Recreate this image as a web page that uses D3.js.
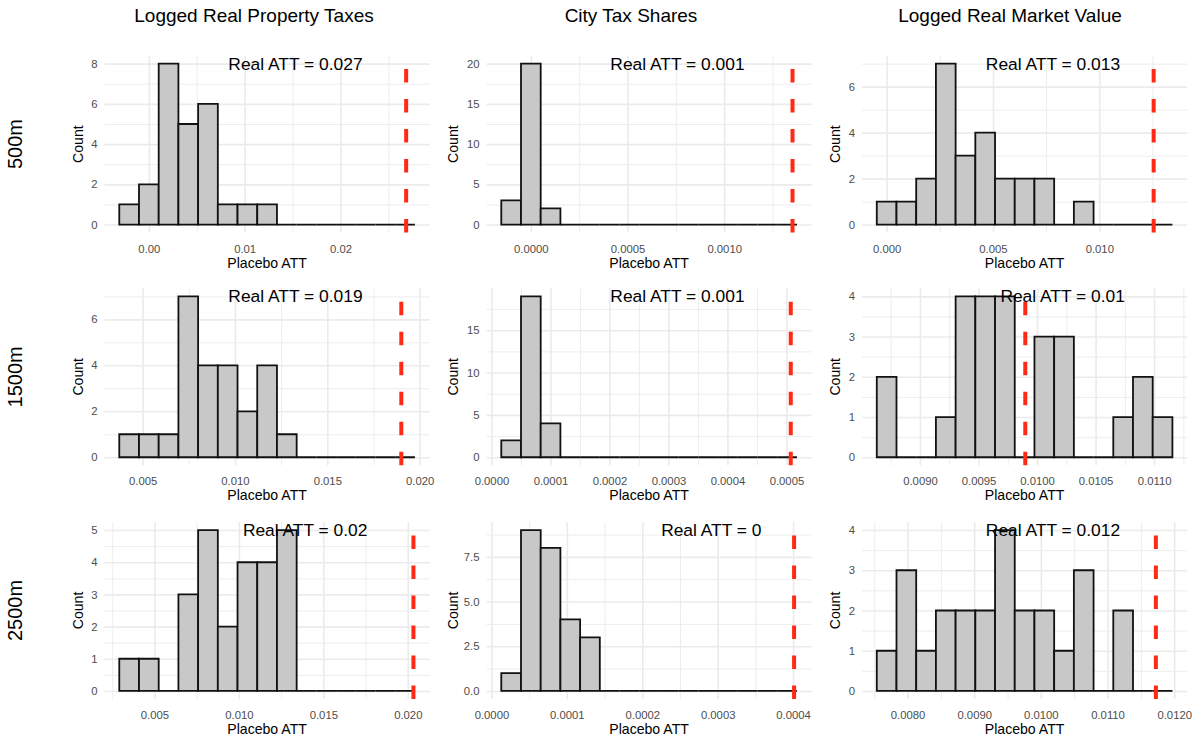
<!DOCTYPE html>
<html><head><meta charset="utf-8">
<script src="https://cdn.jsdelivr.net/npm/d3@7"></script>
<style>
body{margin:0;background:#fff}
svg{display:block}
text{font-family:"Liberation Sans",Arial,Helvetica,sans-serif}
</style>
</head><body>
<svg id="c" width="1204" height="740"></svg>
<script>
// ---------------- data ----------------
const outcomes = ["Logged Real Property Taxes", "City Tax Shares", "Logged Real Market Value"];
const radii = ["500m", "1500m", "2500m"];

// panels in row-major order: 500m (taxes, shares, value), 1500m (...), 2500m (...)
const binStart = [-0.0030852, -0.00015291, -0.00046337,
                   0.0037356,  0.0000167,   0.0086312,
                   0.0029175,  0.000013067, 0.0075386];
const binWidth = [0.0020568, 0.00010194, 0.00092674,
                  0.0010673, 0.000033405, 0.00016834,
                  0.001167,  0.000026134, 0.00029563];
const realATT  = [0.026853, 0.0013534, 0.012555,
                  0.019008, 0.00050734, 0.0098996,
                  0.020335, 0.00040133, 0.011725];

const counts500Taxes   = [1, 2, 8, 5, 6, 1, 1, 1, 0, 0, 0, 0, 0, 0, 0];
const counts500Shares  = [3, 20, 2, 0, 0, 0, 0, 0, 0, 0, 0, 0, 0, 0, 0];
const counts500Value   = [1, 1, 2, 7, 3, 4, 2, 2, 2, 0, 1, 0, 0, 0, 0];
const counts1500Taxes  = [1, 1, 1, 7, 4, 4, 2, 4, 1, 0, 0, 0, 0, 0, 0];
const counts1500Shares = [2, 19, 4, 0, 0, 0, 0, 0, 0, 0, 0, 0, 0, 0, 0];
const counts1500Value  = [2, 0, 0, 1, 4, 4, 4, 0, 3, 3, 0, 0, 1, 2, 1];
const counts2500Taxes  = [1, 1, 0, 3, 5, 2, 4, 4, 5, 0, 0, 0, 0, 0, 0];
const counts2500Shares = [1, 9, 8, 4, 3, 0, 0, 0, 0, 0, 0, 0, 0, 0, 0];
const counts2500Value  = [1, 3, 1, 2, 2, 2, 4, 2, 2, 1, 3, 0, 2, 0, 0];
const allCounts = [counts500Taxes, counts500Shares, counts500Value,
                   counts1500Taxes, counts1500Shares, counts1500Value,
                   counts2500Taxes, counts2500Shares, counts2500Value];

const xTickLabels = [
  ["0.00", "0.01", "0.02"],
  ["0.0000", "0.0005", "0.0010"],
  ["0.000", "0.005", "0.010"],
  ["0.005", "0.010", "0.015", "0.020"],
  ["0.0000", "0.0001", "0.0002", "0.0003", "0.0004", "0.0005"],
  ["0.0090", "0.0095", "0.0100", "0.0105", "0.0110"],
  ["0.005", "0.010", "0.015", "0.020"],
  ["0.0000", "0.0001", "0.0002", "0.0003", "0.0004"],
  ["0.0080", "0.0090", "0.0100", "0.0110", "0.0120"]
];
const yTickLabels = [
  ["0", "2", "4", "6", "8"],
  ["0", "5", "10", "15", "20"],
  ["0", "2", "4", "6"],
  ["0", "2", "4", "6"],
  ["0", "5", "10", "15"],
  ["0", "1", "2", "3", "4"],
  ["0", "1", "2", "3", "4", "5"],
  ["0.0", "2.5", "5.0", "7.5"],
  ["0", "1", "2", "3", "4"]
];

// ---------------- layout ----------------
const colLeft = [104.5, 486.5, 862];
const plotW = 325.2;
const rowTop = [55.6, 288.3, 522];
const plotH = 177;
const countX = [78, 453, 835];
const titleX = [254, 631, 1010];
const FONT = '"Liberation Sans",Arial,Helvetica,sans-serif';

const svg = d3.select("#c");

function minors(vals, lo, hi) {
  const step = vals[1] - vals[0];
  const out = [];
  for (let i = -1; i < vals.length; i++) {
    const v = (i < 0 ? vals[0] - step / 2 : vals[i] + step / 2);
    if (v >= lo && v <= hi) out.push(v);
  }
  return out;
}

// column titles
outcomes.forEach((t, c) => {
  svg.append("text").attr("x", titleX[c]).attr("y", 22)
    .attr("text-anchor", "middle").attr("font-size", 19).attr("fill", "#000")
    .text(t);
});
// row labels
radii.forEach((t, r) => {
  const cy = rowTop[r] + plotH / 2;
  svg.append("text").attr("transform", `translate(22,${cy}) rotate(-90)`)
    .attr("text-anchor", "middle").attr("font-size", 20).attr("fill", "#000")
    .text(t);
});

allCounts.forEach((counts, i) => {
  const r = Math.floor(i / 3), c = i % 3;
  const left = colLeft[c], top = rowTop[r];
  const bottom = top + plotH, right = left + plotW;
  const n = counts.length, w = binWidth[i], s = binStart[i];
  const lo = s, hi = s + n * w, pad = 0.05 * (hi - lo);
  const x = d3.scaleLinear().domain([lo - pad, hi + pad]).range([left, right]);
  const maxC = d3.max(counts);
  const y = d3.scaleLinear().domain([-0.05 * maxC, 1.05 * maxC]).range([bottom, top]);

  const xt = xTickLabels[i].map(Number), yt = yTickLabels[i].map(Number);
  const xm = minors(xt, x.domain()[0], x.domain()[1]);
  const ym = minors(yt, y.domain()[0], y.domain()[1]);

  const g = svg.append("g");

  // minor grid
  const gm = g.append("g");
  gm.append("g").attr("transform", `translate(0,${bottom})`)
    .call(d3.axisBottom(x).tickValues(xm).tickSize(-plotH).tickFormat(""));
  gm.append("g").attr("transform", `translate(${left},0)`)
    .call(d3.axisLeft(y).tickValues(ym).tickSize(-plotW).tickFormat(""));
  gm.selectAll(".domain").remove();
  gm.selectAll(".tick line").attr("stroke", "#ebebeb").attr("stroke-width", 0.9);

  // major grid
  const gM = g.append("g");
  gM.append("g").attr("transform", `translate(0,${bottom})`)
    .call(d3.axisBottom(x).tickValues(xt).tickSize(-plotH).tickFormat(""));
  gM.append("g").attr("transform", `translate(${left},0)`)
    .call(d3.axisLeft(y).tickValues(yt).tickSize(-plotW).tickFormat(""));
  gM.selectAll(".domain").remove();
  gM.selectAll(".tick line").attr("stroke", "#ebebeb").attr("stroke-width", 1.6);

  // axis labels
  const ax = g.append("g").attr("transform", `translate(0,${bottom})`)
    .call(d3.axisBottom(x).tickValues(xt).tickSize(0).tickPadding(12)
      .tickFormat((d, k) => xTickLabels[i][k]));
  const ay = g.append("g").attr("transform", `translate(${left},0)`)
    .call(d3.axisLeft(y).tickValues(yt).tickSize(0).tickPadding(7)
      .tickFormat((d, k) => yTickLabels[i][k]));
  [ax, ay].forEach(a => {
    a.select(".domain").remove();
    a.attr("font-family", FONT).attr("font-size", 11.3);
    a.selectAll("text").attr("fill", "#4d4d4d");
  });

  // bars (zero-count bins drawn as flat outlines, as in the original)
  g.append("g").selectAll("path").data(counts).join("path")
    .attr("d", (d, k) => {
      const x0 = x(s + k * w), x1 = x(s + (k + 1) * w), y0 = y(0), y1 = y(d);
      return `M${x0},${y0}H${x1}V${y1}H${x0}Z`;
    })
    .attr("fill", "#c8c8c8").attr("stroke", "#111").attr("stroke-width", 1.8)
    .attr("stroke-linejoin", "miter");

  // real ATT dashed line
  g.append("line").attr("x1", x(realATT[i])).attr("x2", x(realATT[i]))
    .attr("y1", bottom).attr("y2", top)
    .attr("stroke", "#ff2a14").attr("stroke-width", 4)
    .attr("stroke-dasharray", "13.5,16.5");

  // label
  const lab = g.append("text").attr("y", y(maxC)).attr("dy", "0.35em")
    .attr("font-size", 17.4).attr("fill", "#000").attr("text-anchor", "end")
    .text("Real ATT = " + String(+realATT[i].toFixed(3)));
  const tw = lab.node().getComputedTextLength();
  lab.attr("x", right - 0.5 * tw);

  // axis titles
  g.append("text").attr("x", (left + right) / 2).attr("y", bottom + 30).attr("dy", "0.35em")
    .attr("text-anchor", "middle").attr("font-size", 14.1).attr("fill", "#000")
    .text("Placebo ATT");
  g.append("text").attr("transform", `translate(${countX[c]},${(top + bottom) / 2}) rotate(-90)`)
    .attr("dy", "0.35em").attr("text-anchor", "middle").attr("font-size", 14.1).attr("fill", "#000")
    .text("Count");
});
</script>
</body></html>
